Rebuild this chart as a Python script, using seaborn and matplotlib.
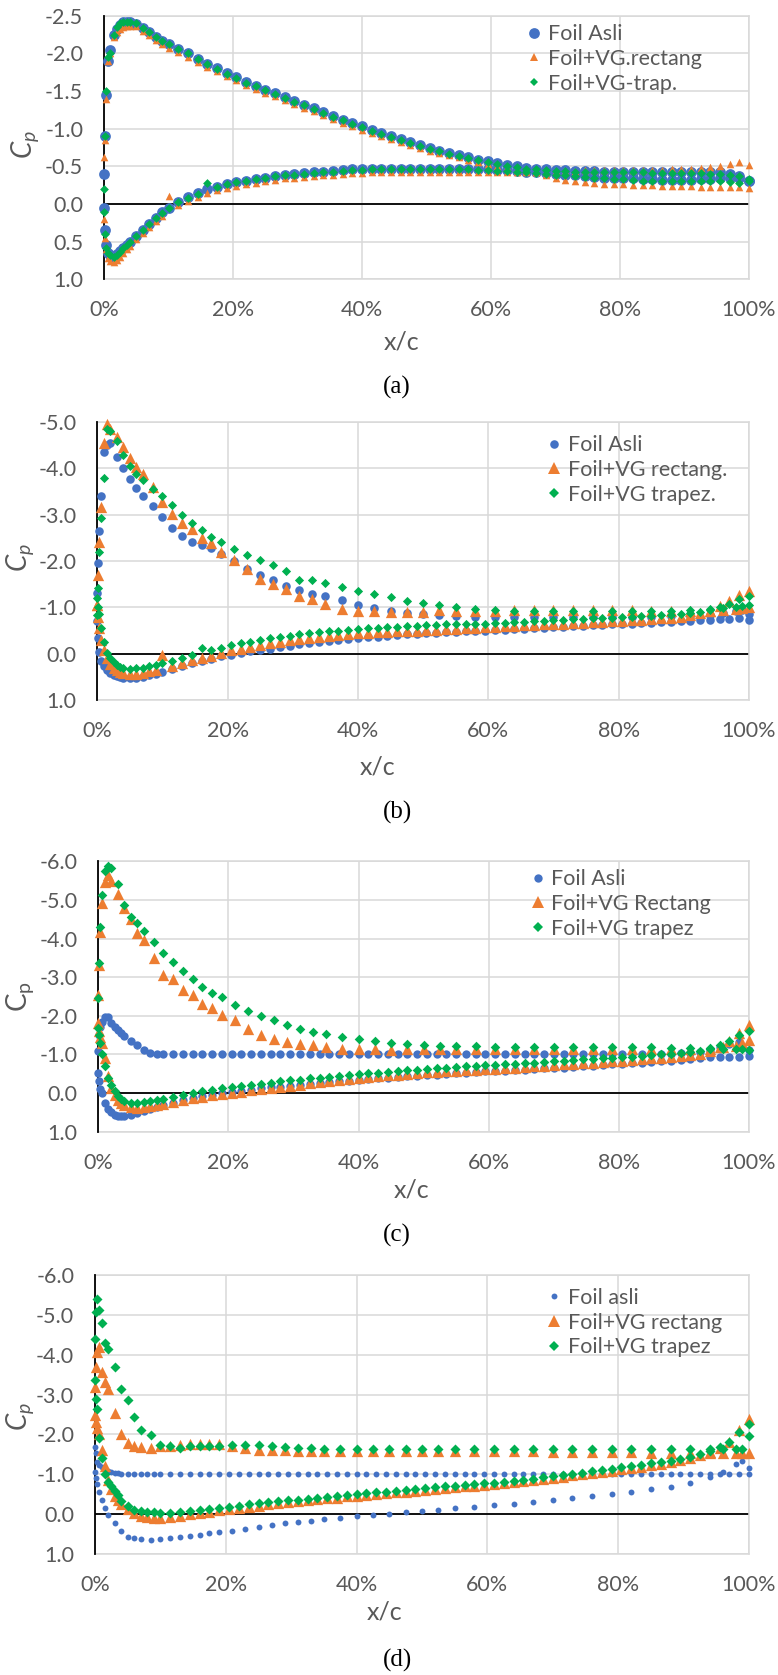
import matplotlib
matplotlib.use("Agg")
import matplotlib.pyplot as plt
import seaborn as sns
import pandas as pd
from matplotlib.lines import Line2D
from matplotlib.ticker import FuncFormatter, MultipleLocator

sns.set_theme(style="white")
plt.rcParams['font.family'] = ['Lato', 'DejaVu Sans']
plt.rcParams['mathtext.fontset'] = 'custom'
plt.rcParams['mathtext.it'] = 'Lato:italic'
plt.rcParams['mathtext.rm'] = 'Lato'

BLUE, ORANGE, GREEN = '#4472C4', '#ED7D31', '#00B050'
GRID, TXT = '#D9D9D9', '#595959'

# ---------------- x/c stations (percent chord) ----------------
XL = [0, 0.1, 0.3, 0.6, 1.0, 1.5, 2.0, 2.5, 3.0, 3.5,
      4.0, 5.0, 6.0, 7.0, 8.0, 9.0, 10.0, 11.5, 13.0, 14.5,
      16.0, 17.5, 19.0, 20.5, 22.0, 23.5, 25.0, 26.5, 28.0, 29.5,
      31.0, 32.5, 34.0, 35.5, 37.0, 38.5, 40.0, 41.5, 43.0, 44.5,
      46.0, 47.5, 49.0, 50.5, 52.0, 53.5, 55.0, 56.5, 58.0, 59.5,
      61.0, 62.5, 64.0, 65.5, 67.0, 68.5, 70.0, 71.5, 73.0, 74.5,
      76.0, 77.5, 79.0, 80.5, 82.0, 83.5, 85.0, 86.5, 88.0, 89.5,
      91.0, 92.5, 94.0, 95.5, 97.0, 98.5, 100.0]
XS = [0, 0.1, 0.3, 0.6, 1.0, 1.5, 2.0, 3.0, 4.0, 5.0,
      6.0, 7.0, 8.5, 10.0, 11.5, 13.0, 14.5, 16.0, 17.5, 19.0,
      21.0, 23.0, 25.0, 27.0, 29.0, 31.0, 33.0, 35.0, 37.5, 40.0,
      42.5, 45.0, 47.5, 50.0, 52.5, 55.0, 58.0, 61.0, 64.0, 67.0,
      70.0, 73.0, 76.0, 79.0, 82.0, 85.0, 88.0, 91.0, 94.0, 96.0,
      98.0, 99.0, 100.0]

# ---------------- panel (a) ----------------
A_ASLI_UP = [-0.40, -0.90, -1.45, -1.90, -2.05, -2.25, -2.33, -2.38, -2.41, -2.42,
             -2.42, -2.39, -2.34, -2.28, -2.22, -2.17, -2.12, -2.06, -2.00, -1.93,
             -1.86, -1.80, -1.74, -1.68, -1.62, -1.57, -1.52, -1.47, -1.42, -1.37,
             -1.32, -1.27, -1.22, -1.17, -1.12, -1.07, -1.03, -0.98, -0.94, -0.90,
             -0.86, -0.82, -0.78, -0.74, -0.71, -0.68, -0.65, -0.62, -0.59, -0.57,
             -0.54, -0.52, -0.50, -0.48, -0.47, -0.46, -0.45, -0.45, -0.44, -0.44,
             -0.44, -0.43, -0.43, -0.43, -0.43, -0.42, -0.42, -0.42, -0.42, -0.42,
             -0.42, -0.42, -0.42, -0.42, -0.40, -0.37, -0.30]
A_ASLI_LO = [0.05, 0.35, 0.55, 0.65, 0.68, 0.70, 0.67, 0.63, 0.58, 0.54,
             0.50, 0.42, 0.34, 0.26, 0.18, 0.11, 0.05, -0.03, -0.09, -0.14,
             -0.20, -0.23, -0.26, -0.29, -0.31, -0.33, -0.35, -0.37, -0.39, -0.40,
             -0.41, -0.42, -0.43, -0.44, -0.45, -0.46, -0.46, -0.47, -0.47, -0.47,
             -0.47, -0.47, -0.47, -0.47, -0.47, -0.47, -0.47, -0.47, -0.46, -0.46,
             -0.45, -0.45, -0.44, -0.43, -0.42, -0.41, -0.40, -0.39, -0.38, -0.37,
             -0.36, -0.35, -0.35, -0.34, -0.34, -0.33, -0.33, -0.32, -0.32, -0.32,
             -0.32, -0.33, -0.33, -0.34, -0.35, -0.34, -0.30]
A_RECT_UP = [-0.63, -0.85, -1.40, -1.90, -2.00, -2.22, -2.28, -2.33, -2.35, -2.36,
             -2.36, -2.36, -2.30, -2.24, -2.18, -2.12, -2.07, -2.02, -1.95, -1.89,
             -1.82, -1.76, -1.70, -1.64, -1.58, -1.53, -1.48, -1.43, -1.38, -1.33,
             -1.28, -1.23, -1.18, -1.13, -1.08, -1.03, -0.98, -0.94, -0.90, -0.86,
             -0.82, -0.78, -0.74, -0.71, -0.68, -0.65, -0.62, -0.59, -0.56, -0.53,
             -0.51, -0.49, -0.47, -0.45, -0.42, -0.38, -0.35, -0.32, -0.30, -0.29,
             -0.28, -0.27, -0.26, -0.26, -0.25, -0.25, -0.25, -0.24, -0.24, -0.24,
             -0.24, -0.23, -0.23, -0.23, -0.22, -0.22, -0.21]
A_RECT_LO = [0.20, 0.45, 0.60, 0.72, 0.76, 0.77, 0.75, 0.70, 0.65, 0.60,
             0.56, 0.47, 0.39, 0.31, 0.23, 0.16, -0.10, 0.02, -0.04, -0.09,
             -0.14, -0.18, -0.21, -0.24, -0.26, -0.28, -0.30, -0.32, -0.34, -0.35,
             -0.36, -0.37, -0.38, -0.39, -0.40, -0.41, -0.41, -0.42, -0.42, -0.42,
             -0.43, -0.43, -0.43, -0.43, -0.43, -0.43, -0.43, -0.42, -0.42, -0.42,
             -0.42, -0.42, -0.42, -0.42, -0.43, -0.43, -0.44, -0.44, -0.44, -0.45,
             -0.45, -0.45, -0.45, -0.45, -0.45, -0.45, -0.45, -0.45, -0.46, -0.46,
             -0.47, -0.48, -0.49, -0.51, -0.53, -0.56, -0.52]
A_TRAP_UP = [-0.20, -0.90, -1.50, -1.95, -2.00, -2.25, -2.35, -2.40, -2.42, -2.42,
             -2.42, -2.40, -2.34, -2.28, -2.22, -2.17, -2.12, -2.06, -2.00, -1.93,
             -1.86, -1.79, -1.73, -1.67, -1.61, -1.56, -1.51, -1.46, -1.41, -1.36,
             -1.31, -1.26, -1.21, -1.16, -1.11, -1.06, -1.02, -0.97, -0.93, -0.89,
             -0.85, -0.81, -0.77, -0.73, -0.70, -0.67, -0.64, -0.61, -0.58, -0.56,
             -0.53, -0.51, -0.49, -0.47, -0.46, -0.45, -0.44, -0.44, -0.43, -0.43,
             -0.43, -0.42, -0.42, -0.42, -0.42, -0.42, -0.41, -0.41, -0.41, -0.41,
             -0.41, -0.41, -0.40, -0.40, -0.39, -0.37, -0.33]
A_TRAP_LO = [0.10, 0.40, 0.58, 0.65, 0.68, 0.70, 0.68, 0.64, 0.59, 0.55,
             0.51, 0.43, 0.35, 0.27, 0.19, 0.12, 0.05, -0.02, -0.08, -0.13,
             -0.28, -0.23, -0.26, -0.29, -0.31, -0.33, -0.35, -0.37, -0.38, -0.39,
             -0.40, -0.41, -0.42, -0.43, -0.44, -0.45, -0.45, -0.46, -0.46, -0.46,
             -0.46, -0.46, -0.46, -0.46, -0.46, -0.46, -0.46, -0.46, -0.45, -0.45,
             -0.44, -0.44, -0.43, -0.42, -0.41, -0.40, -0.39, -0.38, -0.37, -0.36,
             -0.35, -0.34, -0.33, -0.33, -0.32, -0.31, -0.31, -0.30, -0.30, -0.30,
             -0.30, -0.30, -0.30, -0.30, -0.29, -0.28, -0.30]

# ---------------- panel (b) ----------------
B_ASLI_UP = [-1.30, -1.96, -2.65, -3.40, -4.35, -4.50, -4.54, -4.25, -4.00, -3.76,
             -3.58, -3.40, -3.18, -2.94, -2.72, -2.55, -2.42, -2.34, -2.28, -2.16,
             -2.00, -1.83, -1.69, -1.58, -1.47, -1.38, -1.29, -1.24, -1.15, -1.05,
             -0.98, -0.92, -0.88, -0.86, -0.83, -0.81, -0.80, -0.80, -0.80, -0.80,
             -0.80, -0.80, -0.80, -0.80, -0.80, -0.80, -0.81, -0.82, -0.84, -0.87,
             -0.92, -0.95, -0.85]
B_ASLI_LO = [-0.70, -0.33, -0.04, 0.15, 0.26, 0.36, 0.42, 0.46, 0.48, 0.50,
             0.52, 0.53, 0.52, 0.50, 0.47, 0.43, 0.39, 0.33, 0.27, 0.21,
             0.16, 0.11, 0.06, 0.02, -0.02, -0.05, -0.08, -0.11, -0.14, -0.17,
             -0.20, -0.22, -0.25, -0.27, -0.29, -0.31, -0.33, -0.35, -0.37, -0.39,
             -0.40, -0.42, -0.43, -0.44, -0.45, -0.46, -0.47, -0.48, -0.49, -0.50,
             -0.51, -0.52, -0.53, -0.54, -0.55, -0.56, -0.57, -0.58, -0.59, -0.60,
             -0.61, -0.62, -0.63, -0.64, -0.65, -0.66, -0.67, -0.68, -0.69, -0.70,
             -0.71, -0.72, -0.73, -0.74, -0.75, -0.76, -0.72]
B_RECT_UP = [-1.05, -1.70, -2.42, -3.17, -4.55, -4.96, -4.85, -4.68, -4.45, -4.22,
             -4.02, -3.88, -3.60, -3.27, -3.02, -2.82, -2.68, -2.50, -2.38, -2.20,
             -2.03, -1.82, -1.62, -1.50, -1.39, -1.25, -1.17, -1.07, -0.97, -0.93,
             -0.93, -0.91, -0.91, -0.91, -0.94, -0.92, -0.93, -0.93, -0.94, -0.94,
             -0.95, -0.95, -0.95, -0.95, -0.94, -0.93, -0.93, -0.93, -0.93, -0.95,
             -0.97, -0.98, -1.00]
B_RECT_LO = [-1.05, -0.80, -0.55, -0.30, -0.07, 0.10, 0.22, 0.30, 0.36, 0.40,
             0.42, 0.44, 0.43, 0.41, 0.38, 0.35, 0.03, 0.26, 0.20, 0.14,
             0.10, 0.04, -0.02, -0.07, -0.11, -0.15, -0.19, -0.23, -0.26, -0.29,
             -0.32, -0.34, -0.36, -0.38, -0.40, -0.42, -0.44, -0.45, -0.46, -0.47,
             -0.48, -0.49, -0.50, -0.51, -0.52, -0.53, -0.54, -0.55, -0.56, -0.57,
             -0.58, -0.59, -0.60, -0.61, -0.62, -0.63, -0.64, -0.65, -0.66, -0.67,
             -0.68, -0.69, -0.70, -0.71, -0.72, -0.73, -0.74, -0.76, -0.78, -0.80,
             -0.83, -0.87, -0.93, -1.02, -1.13, -1.27, -1.35]
B_TRAP_UP = [-0.83, -1.41, -2.20, -2.92, -3.80, -4.85, -4.80, -4.60, -4.28, -4.05,
             -3.88, -3.74, -3.55, -3.40, -3.20, -3.00, -2.82, -2.66, -2.52, -2.40,
             -2.26, -2.14, -2.03, -1.92, -1.78, -1.60, -1.58, -1.52, -1.44, -1.35,
             -1.28, -1.22, -1.13, -1.09, -1.04, -1.00, -0.97, -0.94, -0.93, -0.93,
             -0.93, -0.93, -0.93, -0.93, -0.93, -0.93, -0.93, -0.94, -0.96, -0.98,
             -1.00, -1.02, -1.05]
B_TRAP_LO = [-1.20, -1.00, -0.85, -0.55, -0.25, -0.02, 0.10, 0.18, 0.24, 0.28,
             0.31, 0.33, 0.32, 0.30, 0.27, 0.24, 0.21, 0.15, 0.09, 0.03,
             -0.12, -0.08, -0.13, -0.18, -0.22, -0.26, -0.30, -0.33, -0.36, -0.39,
             -0.42, -0.44, -0.46, -0.48, -0.50, -0.52, -0.54, -0.55, -0.56, -0.57,
             -0.58, -0.59, -0.60, -0.61, -0.62, -0.63, -0.64, -0.64, -0.65, -0.65,
             -0.66, -0.67, -0.68, -0.69, -0.70, -0.71, -0.72, -0.73, -0.74, -0.75,
             -0.76, -0.77, -0.78, -0.79, -0.80, -0.81, -0.82, -0.83, -0.84, -0.86,
             -0.88, -0.91, -0.95, -1.01, -1.08, -1.18, -1.25]

# ---------------- panel (c) ----------------
C_ASLI_UP = [-1.10, -1.51, -1.70, -1.85, -1.97, -1.96, -1.81, -1.72, -1.64, -1.55,
             -1.47, -1.36, -1.24, -1.12, -1.05, -1.02, -1.01, -1.00, -1.00, -1.00,
             -1.00, -1.00, -1.00, -1.00, -1.00, -1.00, -1.00, -1.00, -1.00, -1.00,
             -1.00, -1.00, -1.00, -1.00, -1.00, -1.00, -1.00, -1.00, -1.00, -1.00,
             -1.00, -1.00, -1.00, -1.00, -1.00, -1.00, -1.00, -1.00, -1.00, -1.00,
             -1.00, -1.00, -1.00, -1.00, -1.00, -1.00, -1.00, -1.00, -1.00, -1.00,
             -1.00, -1.00, -1.00, -1.00, -1.00, -1.00, -1.00, -1.01, -1.02, -1.03,
             -1.04, -1.06, -1.10, -1.18, -1.26, -1.32, -1.12]
C_ASLI_LO = [-0.52, -0.30, -0.10, 0.00, 0.25, 0.42, 0.50, 0.56, 0.59, 0.60,
             0.60, 0.57, 0.52, 0.47, 0.41, 0.36, 0.31, 0.25, 0.19, 0.13,
             0.08, 0.04, 0.00, -0.03, -0.06, -0.09, -0.12, -0.15, -0.17, -0.19,
             -0.22, -0.24, -0.26, -0.28, -0.30, -0.32, -0.34, -0.36, -0.38, -0.40,
             -0.42, -0.44, -0.45, -0.47, -0.48, -0.50, -0.51, -0.53, -0.54, -0.56,
             -0.57, -0.58, -0.60, -0.61, -0.62, -0.64, -0.65, -0.66, -0.68, -0.69,
             -0.71, -0.72, -0.74, -0.76, -0.77, -0.79, -0.80, -0.82, -0.84, -0.86,
             -0.88, -0.91, -0.93, -0.93, -0.93, -0.93, -0.95]
C_RECT_UP = [-2.54, -3.32, -4.18, -4.91, -5.47, -5.65, -5.50, -5.15, -4.80, -4.50,
             -4.15, -3.97, -3.50, -3.05, -2.95, -2.68, -2.55, -2.30, -2.20, -2.03,
             -1.90, -1.65, -1.50, -1.40, -1.32, -1.27, -1.24, -1.19, -1.15, -1.15,
             -1.15, -1.12, -1.14, -1.15, -1.15, -1.15, -1.15, -1.15, -1.15, -1.15,
             -1.15, -1.15, -1.15, -1.15, -1.15, -1.15, -1.15, -1.15, -1.15, -1.18,
             -1.22, -1.30, -1.38]
C_RECT_LO = [-1.81, -1.60, -1.45, -1.29, -0.90, -0.45, -0.12, 0.06, 0.18, 0.26,
             0.32, 0.37, 0.38, 0.37, 0.34, 0.31, 0.28, 0.23, 0.18, 0.13,
             0.09, 0.05, 0.02, -0.01, -0.04, -0.07, -0.10, -0.13, -0.16, -0.19,
             -0.22, -0.25, -0.28, -0.31, -0.34, -0.37, -0.40, -0.42, -0.44, -0.46,
             -0.48, -0.50, -0.52, -0.54, -0.55, -0.57, -0.58, -0.59, -0.61, -0.62,
             -0.63, -0.65, -0.66, -0.68, -0.69, -0.71, -0.72, -0.74, -0.75, -0.77,
             -0.78, -0.80, -0.82, -0.84, -0.86, -0.88, -0.90, -0.92, -0.94, -0.96,
             -0.98, -1.02, -1.08, -1.20, -1.35, -1.55, -1.75]
C_TRAP_UP = [-2.46, -3.36, -4.31, -5.13, -5.75, -5.88, -5.82, -5.40, -4.87, -4.55,
             -4.40, -4.20, -3.90, -3.62, -3.40, -3.15, -2.95, -2.75, -2.58, -2.48,
             -2.28, -2.13, -2.00, -1.90, -1.76, -1.65, -1.58, -1.52, -1.44, -1.40,
             -1.35, -1.30, -1.27, -1.24, -1.23, -1.22, -1.21, -1.20, -1.19, -1.19,
             -1.18, -1.18, -1.18, -1.18, -1.18, -1.18, -1.17, -1.17, -1.16, -1.15,
             -1.14, -1.13, -1.12]
C_TRAP_LO = [-1.68, -1.50, -1.30, -1.00, -0.70, -0.39, -0.20, -0.05, 0.07, 0.15,
             0.20, 0.25, 0.25, 0.23, 0.21, 0.18, 0.15, 0.11, 0.06, 0.01,
             -0.06, -0.08, -0.12, -0.15, -0.18, -0.21, -0.24, -0.27, -0.30, -0.33,
             -0.35, -0.38, -0.40, -0.42, -0.45, -0.47, -0.49, -0.51, -0.53, -0.55,
             -0.57, -0.59, -0.61, -0.62, -0.64, -0.66, -0.67, -0.69, -0.70, -0.72,
             -0.73, -0.75, -0.76, -0.78, -0.79, -0.81, -0.82, -0.84, -0.85, -0.87,
             -0.88, -0.90, -0.91, -0.93, -0.94, -0.96, -0.98, -1.00, -1.02, -1.04,
             -1.07, -1.10, -1.15, -1.24, -1.36, -1.50, -1.60]

# ---------------- panel (d) ----------------
D_ASLI_UP = [-1.69, -1.52, -1.31, -1.23, -1.17, -1.13, -1.08, -1.05, -1.03, -1.02,
             -1.01, -1.00, -1.00, -1.00, -1.00, -1.00, -1.00, -1.00, -1.00, -1.00,
             -1.00, -1.00, -1.00, -1.00, -1.00, -1.00, -1.00, -1.00, -1.00, -1.00,
             -1.00, -1.00, -1.00, -1.00, -1.00, -1.00, -1.00, -1.00, -1.00, -1.00,
             -1.00, -1.00, -1.00, -1.00, -1.00, -1.00, -1.00, -1.00, -1.00, -1.00,
             -1.00, -1.00, -1.00, -1.00, -1.00, -1.00, -1.00, -1.00, -1.00, -1.00,
             -1.00, -1.00, -1.00, -1.00, -1.00, -1.00, -1.00, -1.00, -1.00, -1.00,
             -1.00, -1.00, -1.00, -1.00, -1.00, -1.00, -1.00]
D_ASLI_LO = [-1.06, -0.90, -0.75, -0.56, -0.35, -0.14, 0.02, 0.23, 0.44, 0.58,
             0.61, 0.63, 0.65, 0.64, 0.60, 0.58, 0.55, 0.52, 0.49, 0.46,
             0.43, 0.37, 0.34, 0.28, 0.23, 0.20, 0.18, 0.14, 0.10, 0.06,
             0.02, -0.01, -0.04, -0.07, -0.10, -0.14, -0.18, -0.22, -0.26, -0.31,
             -0.36, -0.41, -0.45, -0.51, -0.55, -0.62, -0.68, -0.77, -0.92, -1.05,
             -1.25, -1.33, -1.15]
D_RECT_UP = [-3.20, -3.70, -4.08, -4.20, -3.57, -3.32, -3.15, -2.55, -2.00, -1.78,
             -1.70, -1.69, -1.67, -1.70, -1.72, -1.74, -1.76, -1.77, -1.75, -1.77,
             -1.72, -1.66, -1.61, -1.61, -1.60, -1.59, -1.59, -1.59, -1.59, -1.58,
             -1.58, -1.58, -1.58, -1.58, -1.58, -1.57, -1.57, -1.57, -1.57, -1.57,
             -1.56, -1.56, -1.55, -1.55, -1.55, -1.54, -1.54, -1.54, -1.54, -1.54,
             -1.54, -1.54, -1.53]
D_RECT_LO = [-2.50, -2.30, -2.15, -2.00, -1.60, -1.20, -0.85, -0.62, -0.45, -0.35,
             -0.25, -0.12, -0.02, 0.04, 0.08, 0.10, 0.10, 0.08, 0.05, 0.01,
             -0.02, -0.05, -0.09, -0.12, -0.15, -0.18, -0.21, -0.24, -0.27, -0.29,
             -0.32, -0.34, -0.37, -0.39, -0.41, -0.44, -0.46, -0.48, -0.50, -0.52,
             -0.54, -0.56, -0.58, -0.61, -0.63, -0.65, -0.67, -0.69, -0.71, -0.73,
             -0.75, -0.77, -0.80, -0.82, -0.85, -0.88, -0.91, -0.94, -0.97, -1.00,
             -1.03, -1.06, -1.09, -1.13, -1.16, -1.19, -1.23, -1.26, -1.30, -1.35,
             -1.40, -1.47, -1.55, -1.66, -1.82, -2.10, -2.38]
D_TRAP_UP = [-4.41, -5.08, -5.41, -5.12, -4.79, -4.30, -4.15, -3.70, -3.14, -2.86,
             -2.44, -2.10, -1.98, -1.73, -1.70, -1.67, -1.70, -1.72, -1.72, -1.72,
             -1.73, -1.73, -1.73, -1.72, -1.69, -1.67, -1.67, -1.63, -1.63, -1.64,
             -1.64, -1.64, -1.64, -1.64, -1.64, -1.64, -1.64, -1.64, -1.64, -1.64,
             -1.64, -1.64, -1.64, -1.64, -1.64, -1.64, -1.64, -1.64, -1.64, -1.64,
             -1.64, -1.64, -1.96]
D_TRAP_LO = [-3.36, -2.90, -2.65, -1.90, -1.40, -1.00, -0.80, -0.70, -0.58, -0.48,
             -0.32, -0.20, -0.11, -0.07, -0.05, -0.04, -0.03, -0.03, -0.05, -0.07,
             -0.09, -0.12, -0.15, -0.18, -0.21, -0.24, -0.27, -0.29, -0.32, -0.34,
             -0.36, -0.38, -0.41, -0.43, -0.45, -0.48, -0.50, -0.52, -0.54, -0.56,
             -0.58, -0.60, -0.62, -0.65, -0.67, -0.69, -0.71, -0.73, -0.75, -0.77,
             -0.79, -0.81, -0.84, -0.86, -0.89, -0.92, -0.95, -0.98, -1.01, -1.04,
             -1.07, -1.10, -1.13, -1.17, -1.20, -1.23, -1.27, -1.30, -1.34, -1.39,
             -1.44, -1.50, -1.58, -1.68, -1.82, -2.05, -2.25]

LABELS_A = ["Foil Asli", "Foil+VG.rectang", "Foil+VG-trap."]
LABELS_B = ["Foil Asli", "Foil+VG rectang.", "Foil+VG trapez."]
LABELS_C = ["Foil Asli", "Foil+VG Rectang", "Foil+VG trapez"]
LABELS_D = ["Foil asli", "Foil+VG rectang", "Foil+VG trapez"]
Y_TICK_STEP = [0.5, 1.0, 1.0, 1.0]
Y_LIMITS = [(1.0, -2.5), (1.0, -5.0), (1.0, -6.0), (1.0, -6.0)]
X_TICKS = [0, 20, 40, 60, 80, 100]

W, H = 778, 1675
fig = plt.figure(figsize=(W / 100, H / 100), dpi=100)


def pts(xs, ys):
    n = min(len(xs), len(ys))
    return list(xs[:n]), list(ys[:n])


def make_df(xu, cu, xl, cl):
    a, b = pts(xu, cu)
    c, d = pts(xl, cl)
    return pd.DataFrame({"x": a + c, "cp": b + d})


panels = [
    dict(rect=(104, 749, 15.7, 279.3),
         series=[(XL, A_ASLI_UP, XL, A_ASLI_LO), (XL, A_RECT_UP, XL, A_RECT_LO), (XL, A_TRAP_UP, XL, A_TRAP_LO)],
         sizes=[60, 30, 20], labels=LABELS_A, leg=(534, 37), cp=(25, 145, r'$C_p$'),
         xc=(402, 342), tag=(397, 387, '(a)')),
    dict(rect=(97.3, 749, 422, 700),
         series=[(XS, B_ASLI_UP, XL, B_ASLI_LO), (XS, B_RECT_UP, XL, B_RECT_LO), (XS, B_TRAP_UP, XL, B_TRAP_LO)],
         sizes=[38, 66, 22], labels=LABELS_B, leg=(554, 448), cp=(20, 558, r'$C_p$'),
         xc=(378, 767), tag=(397, 812, '(b)')),
    dict(rect=(98.3, 749, 861.3, 1131.7),
         series=[(XL, C_ASLI_UP, XL, C_ASLI_LO), (XS, C_RECT_UP, XL, C_RECT_LO), (XS, C_TRAP_UP, XL, C_TRAP_LO)],
         sizes=[36, 66, 24], labels=LABELS_C, leg=(537.5, 882), cp=(20, 997, r'$\mathrm{C_p}$'),
         xc=(412, 1190), tag=(397, 1235, '(c)')),
    dict(rect=(95, 749, 1275.3, 1553.7),
         series=[(XL, D_ASLI_UP, XS, D_ASLI_LO), (XS, D_RECT_UP, XL, D_RECT_LO), (XS, D_TRAP_UP, XL, D_TRAP_LO)],
         sizes=[18, 66, 26], labels=LABELS_D, leg=(554, 1300.7), cp=(20, 1417, r'$C_p$'),
         xc=(385, 1612), tag=(397, 1660, '(d)')),
]

colors = [BLUE, ORANGE, GREEN]
markers = ['o', '^', 'D']
TICK_FS = 15.5
LEG_FS = 15.5


def yfmt(v, p):
    if abs(v) < 1e-9:
        v = 0.0
    return f"{v:.1f}"


for i, P in enumerate(panels):
    l, r, t, b = P["rect"]
    ax = fig.add_axes([l / W, 1 - b / H, (r - l) / W, (b - t) / H])
    ax.set_axisbelow(True)
    ax.grid(True, color=GRID, lw=1.1)
    for side in ("top", "right", "bottom"):
        ax.spines[side].set_color(GRID)
        ax.spines[side].set_linewidth(1.1)
    ax.spines["left"].set_color("black")
    ax.spines["left"].set_linewidth(1.3)
    ax.spines["left"].set_zorder(2.6)
    ax.axhline(0, color="black", lw=1.3, zorder=2.5)

    for k, (xu, cu, xl, cl) in enumerate(P["series"]):
        df = make_df(xu, cu, xl, cl)
        sns.scatterplot(data=df, x="x", y="cp", ax=ax, color=colors[k], marker=markers[k],
                        s=P["sizes"][k], linewidth=0, clip_on=False, zorder=3 + k, legend=False)

    ax.set_xlim(0, 100)
    ax.set_ylim(*Y_LIMITS[i])
    ax.set_xticks(X_TICKS)
    ax.xaxis.set_major_formatter(FuncFormatter(lambda v, p: f"{v:.0f}%"))
    ax.yaxis.set_major_locator(MultipleLocator(Y_TICK_STEP[i]))
    ax.yaxis.set_major_formatter(FuncFormatter(yfmt))
    ax.tick_params(axis="both", length=0, labelsize=TICK_FS, labelcolor=TXT)
    ax.tick_params(axis="y", pad=15)
    ax.tick_params(axis="x", pad=15)
    ax.set_xlabel("")
    ax.set_ylabel("")

    handles = [Line2D([], [], linestyle="None", marker=markers[k], color=colors[k],
                      markeredgewidth=0, markersize=P["sizes"][k] ** 0.5) for k in range(3)]
    mx, my = P["leg"]
    fs = LEG_FS * 100 / 72
    ax.legend(handles, P["labels"], loc="upper left",
              bbox_to_anchor=((mx - 0.4 * fs) / W, 1 - (my - 12.8) / H),
              bbox_transform=fig.transFigure, frameon=False, fontsize=LEG_FS,
              labelcolor=TXT, handlelength=0.8, handletextpad=0.25,
              labelspacing=0.22, borderpad=0, borderaxespad=0)

    cx, cy, ctext = P["cp"]
    fig.text(cx / W, 1 - cy / H, ctext, rotation=90, ha="center", va="center",
             fontsize=20, color=TXT)
    xx, xy = P["xc"]
    fig.text(xx / W, 1 - xy / H, "x/c", ha="center", va="center", fontsize=18, color=TXT)
    tx, ty, tt = P["tag"]
    fig.text(tx / W, 1 - ty / H, tt, ha="center", va="center", fontsize=18,
             color="black", family=["Liberation Serif", "DejaVu Serif"])

fig.savefig("out.png", dpi=100)
